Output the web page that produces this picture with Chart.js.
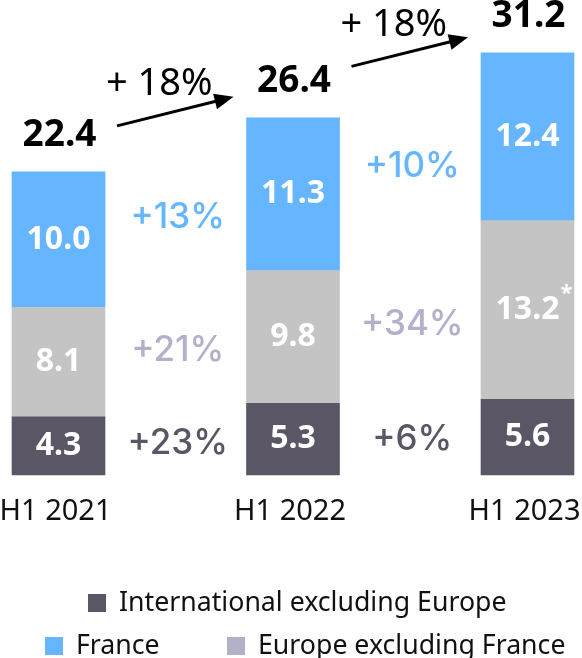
<!DOCTYPE html>
<html>
<head>
<meta charset="utf-8">
<script src="https://cdn.jsdelivr.net/npm/chart.js@4"></script>
<style>
  html, body { margin: 0; padding: 0; background: #fff; }
  canvas { display: block; }
</style>
</head>
<body>
<canvas id="myChart" width="582" height="658"></canvas>
<script>
// Données (milliards)
const categories = ['H1 2021', 'H1 2022', 'H1 2023'];
const international = [4.3, 5.3, 5.6];
const europe = [8.1, 9.8, 13.2];
const france = [10.0, 11.3, 12.4];
const totals = ['22.4', '26.4', '31.2'];
const growthFrance = ['+13%', '+10%'];
const growthEurope = ['+21%', '+34%'];
const growthIntl = ['+23%', '+6%'];
const growthTotal = ['+ 18%', '+ 18%'];

const colIntl = '#5a5666';
const colEurope = '#c4c4c4';
const colFrance = '#66b6ff';
const colEuropeText = '#b3b1c9';

// Étiquettes, flèches et légende dessinées à la main
const annotations = {
    id: 'annotations',
    afterDatasetsDraw(chart) {
        const ctx = chart.ctx;
        const metas = [0, 1, 2].map(i => chart.getDatasetMeta(i));
        ctx.save();
        ctx.textAlign = 'center';
        ctx.textBaseline = 'middle';

        // valeurs dans les barres
        ctx.fillStyle = '#fff';
        ctx.font = 'bold 32px "Noto Sans"';
        metas.forEach((meta, d) => {
            meta.data.forEach((bar, i) => {
                const v = chart.data.datasets[d].data[i];
                const y = (bar.y + bar.base) / 2;
                ctx.fillText(v.toFixed(1), bar.x, y);
                if (d === 1 && i === 2) {
                    const w = ctx.measureText(v.toFixed(1)).width;
                    ctx.font = 'bold 22px "Noto Sans"';
                    ctx.fillText('*', bar.x + w / 2 + 7, y - 16);
                    ctx.font = 'bold 32px "Noto Sans"';
                }
            });
        });

        // totaux
        const tops = metas[2].data.map(b => b.y);
        ctx.fillStyle = '#000';
        ctx.font = 'bold 37px "Noto Sans"';
        metas[2].data.forEach((bar, i) => {
            ctx.fillText(totals[i], bar.x + 1, bar.y - 36);
        });

        // croissances par segment
        const growth = [growthIntl, growthEurope, growthFrance];
        const gColors = [colIntl, colEuropeText, colFrance];
        const gFont = '500 35px Inter';
        ctx.font = gFont;
        for (let i = 0; i < 2; i++) {
            const a = metas[0].data[i], b = metas[0].data[i + 1];
            const x = (a.x + b.x) / 2 + 2;
            metas.forEach((meta, d) => {
                const m1 = (meta.data[i].y + meta.data[i].base) / 2;
                const m2 = (meta.data[i + 1].y + meta.data[i + 1].base) / 2;
                ctx.fillStyle = gColors[d];
                ctx.fillText(growth[d][i], x, (m1 + m2) / 2 + 1);
            });

            // flèche et croissance totale
            const xs = a.x + 93 / 2 + 12;
            const xe = b.x - 93 / 2 - 13;
            const ym = (tops[i] + tops[i + 1]) / 2 - 33.5;
            const ys = ym + 14.5, ye = ym - 14.5;
            const ang = Math.atan2(ye - ys, xe - xs);
            ctx.strokeStyle = '#000';
            ctx.lineWidth = 3;
            ctx.beginPath();
            ctx.moveTo(xs, ys);
            ctx.lineTo(xe - 14 * Math.cos(ang), ye - 14 * Math.sin(ang));
            ctx.stroke();
            ctx.fillStyle = '#000';
            ctx.beginPath();
            ctx.moveTo(xe, ye);
            ctx.lineTo(xe - 19 * Math.cos(ang) + 8 * Math.sin(ang), ye - 19 * Math.sin(ang) - 8 * Math.cos(ang));
            ctx.lineTo(xe - 19 * Math.cos(ang) - 8 * Math.sin(ang), ye - 19 * Math.sin(ang) + 8 * Math.cos(ang));
            ctx.closePath();
            ctx.fill();
            ctx.font = '38px "Noto Sans"';
            ctx.fillText(growthTotal[i], (xs + xe) / 2 - 16, ym - 27);
            ctx.font = gFont;
        }

        // catégories
        const xScale = chart.scales.x;
        ctx.fillStyle = '#111';
        ctx.font = '29px "Noto Sans"';
        categories.forEach((c, i) => {
            ctx.fillText(c, xScale.getPixelForValue(i) - 3, 512);
        });

        // légende
        ctx.textAlign = 'left';
        ctx.font = '26.7px "Noto Sans"';
        const legend = [
            { text: chart.data.datasets[0].label, color: colIntl, x: 88, y: 603 },
            { text: chart.data.datasets[2].label, color: colFrance, x: 45, y: 646 },
            { text: chart.data.datasets[1].label, color: colEuropeText, x: 227, y: 646 }
        ];
        legend.forEach(l => {
            ctx.fillStyle = l.color;
            ctx.fillRect(l.x, l.y - 9, 18, 18);
            ctx.fillStyle = '#111';
            ctx.fillText(l.text, l.x + 31, l.y);
        });
        ctx.restore();
    }
};

const ctx = document.getElementById('myChart').getContext('2d');
const myChart = new Chart(ctx, {
    type: 'bar',
    data: {
        labels: categories,
        datasets: [
            { label: 'International excluding Europe', data: international, backgroundColor: colIntl },
            { label: 'Europe excluding France', data: europe, backgroundColor: colEurope },
            { label: 'France', data: france, backgroundColor: colFrance }
        ]
    },
    options: {
        responsive: false,
        animation: false,
        devicePixelRatio: 1,
        layout: { padding: { left: 58.5, right: 54.5, top: 1.45, bottom: 183 } },
        datasets: { bar: { barThickness: 93, clip: false, borderWidth: 0 } },
        scales: {
            x: { stacked: true, offset: false, display: false },
            y: { stacked: true, min: 0, max: 35, display: false }
        },
        plugins: { legend: { display: false }, tooltip: { enabled: false } }
    },
    plugins: [annotations]
});
</script>
</body>
</html>
